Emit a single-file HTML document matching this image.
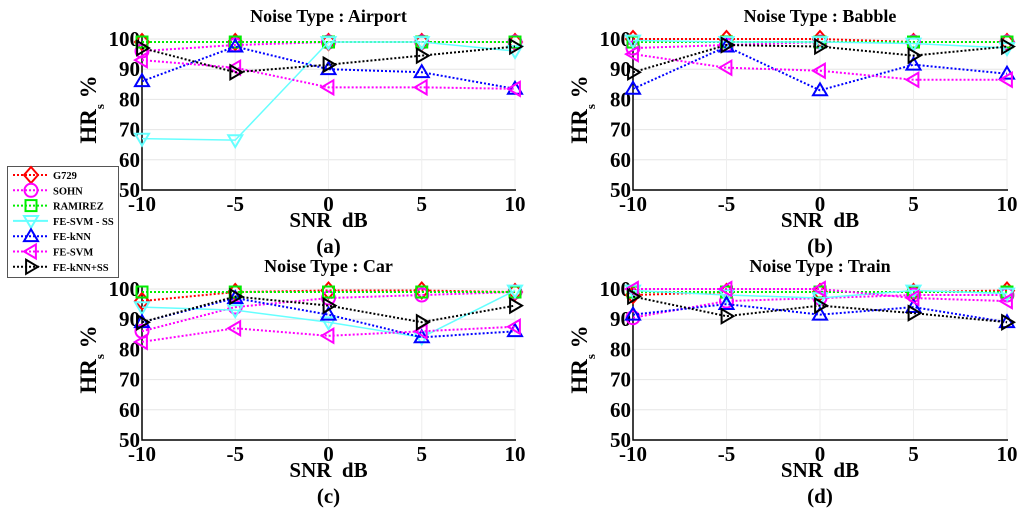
<!DOCTYPE html>
<html><head><meta charset="utf-8"><style>
html,body{margin:0;padding:0;background:#fff}
svg{display:block;font-family:"Liberation Serif",serif;font-weight:bold}
</style></head><body>
<svg id="fig" width="1024" height="508" viewBox="0 0 1024 508" xmlns="http://www.w3.org/2000/svg"></svg>
<script>
const snr = [-10,-5,0,5,10];
const yTicks = [50,60,70,80,90,100];
const xTicks = [-10,-5,0,5,10];
const seriesNames = ["G729","SOHN","RAMIREZ","FE-SVM - SS","FE-kNN","FE-SVM","FE-kNN+SS"];
const airportG729 = [99,99,99,99,99];
const airportSOHN = [96,98,99,99,99];
const airportRAMIREZ = [99,99,99,99,99];
const airportSVMSS = [67,66.5,99,99,96];
const airportKNN = [86,97.5,90,89,83.5];
const airportSVM = [93,90.5,84,84,83.5];
const airportKNNSS = [97,89,91.5,94.5,97.5];
const babbleG729 = [100,100,100,99,99];
const babbleSOHN = [97,98,99,99,99];
const babbleRAMIREZ = [99,99,99,99,99];
const babbleSVMSS = [99.5,99,99,98.5,97];
const babbleKNN = [83.5,97.5,83,91.5,88.5];
const babbleSVM = [95,90.5,89.5,86.5,86.5];
const babbleKNNSS = [89,98,97.5,94.5,97.5];
const carG729 = [96,99,99.5,99.5,99];
const carSOHN = [86,94,97,98,99];
const carRAMIREZ = [99,99,99,99,99];
const carSVMSS = [94,93,89,84,99.5];
const carKNN = [89,97,91.5,84,86];
const carSVM = [82.5,87,84.5,86,87.5];
const carKNNSS = [89,97.5,94.5,89,94.5];
const trainG729 = [98,99,99,99,99.5];
const trainSOHN = [90.5,96,97,98,98];
const trainRAMIREZ = [99,99,99,99,99];
const trainSVMSS = [99.5,98,97,99.5,98.5];
const trainKNN = [91.5,95,91.5,94,89];
const trainSVM = [100,100,100,97,96];
const trainKNNSS = [97.5,91,94.5,92,89];

const styles = [
 {c:"#ff0000",dash:"2,2",m:"diamond"},
 {c:"#ff00ff",dash:"2,2",m:"circle"},
 {c:"#00ee00",dash:"2,2",m:"square"},
 {c:"#66ffff",dash:"",m:"tridown"},
 {c:"#0000ff",dash:"2,2",m:"triup"},
 {c:"#ff00ff",dash:"2,2",m:"trileft"},
 {c:"#000000",dash:"2,2",m:"triright"}
];
const panels = [
 {title:"Noise Type : Airport",lab:"(a)",x0:142,x1:515,y0:39,y1:190,data:[airportG729,airportSOHN,airportRAMIREZ,airportSVMSS,airportKNN,airportSVM,airportKNNSS]},
 {title:"Noise Type : Babble",lab:"(b)",x0:633,x1:1007,y0:39,y1:190,data:[babbleG729,babbleSOHN,babbleRAMIREZ,babbleSVMSS,babbleKNN,babbleSVM,babbleKNNSS]},
 {title:"Noise Type : Car",lab:"(c)",x0:142,x1:515,y0:289,y1:440,data:[carG729,carSOHN,carRAMIREZ,carSVMSS,carKNN,carSVM,carKNNSS]},
 {title:"Noise Type : Train",lab:"(d)",x0:633,x1:1007,y0:289,y1:440,data:[trainG729,trainSOHN,trainRAMIREZ,trainSVMSS,trainKNN,trainSVM,trainKNNSS]}
];
const NS="http://www.w3.org/2000/svg";
const svg=document.getElementById('fig');
function mk(tag,attrs,parent,text){const e=document.createElementNS(NS,tag);for(const k in attrs)e.setAttribute(k,attrs[k]);if(text!==undefined)e.textContent=text;(parent||svg).appendChild(e);return e;}
function marker(g,type,x,y,c){
 const r=7;let e;
 if(type==="circle")e=mk("circle",{cx:x,cy:y,r:6.5},g);
 else if(type==="square")e=mk("rect",{x:x-5.5,y:y-5.5,width:11,height:11},g);
 else{let p;
  if(type==="diamond")p=[[x,y-r-1],[x+r,y],[x,y+r+1],[x-r,y]];
  if(type==="triup")p=[[x,y-r],[x+r,y+r*0.7],[x-r,y+r*0.7]];
  if(type==="tridown")p=[[x,y+r],[x+r,y-r*0.7],[x-r,y-r*0.7]];
  if(type==="trileft")p=[[x-r,y],[x+r*0.7,y-r],[x+r*0.7,y+r]];
  if(type==="triright")p=[[x+r,y],[x-r*0.7,y-r],[x-r*0.7,y+r]];
  e=mk("polygon",{points:p.map(q=>q.join(",")).join(" ")},g);}
 e.setAttribute("fill","none");e.setAttribute("stroke",c);e.setAttribute("stroke-width","2");
 
 
}
panels.forEach((P,pi)=>{
 const g=mk("g",{});
 
 
 const sx=v=>P.x0+(v+10)/20*(P.x1-P.x0);
 const sy=v=>P.y1-(v-50)/50*(P.y1-P.y0);
 yTicks.forEach(t=>{if(t>50){const l=mk("line",{x1:P.x0,x2:P.x1,y1:sy(t),y2:sy(t),stroke:"#e6e6e6","stroke-width":1},g);}});
 xTicks.forEach(t=>{if(t>-10){const l=mk("line",{x1:sx(t),x2:sx(t),y1:P.y0,y2:P.y1,stroke:"#eeeeee","stroke-width":1},g);}});
 const ax=mk("path",{d:`M${P.x0},${P.y0-3} V${P.y1} H${P.x1+1}`,fill:"none",stroke:"#000","stroke-width":1.5},g);
 
 yTicks.forEach(t=>{const e=mk("text",{x:P.x0-2,y:sy(t)+7,"text-anchor":"end","font-size":"21"},g,String(t));});
 xTicks.forEach(t=>{const e=mk("text",{x:sx(t),y:P.y1+21,"text-anchor":"middle","font-size":"21"},g,String(t));});
 const cx=(P.x0+P.x1)/2;
 const ti=mk("text",{x:cx,y:P.y0-17,"text-anchor":"middle","font-size":"18"},g,P.title);
 const xl=mk("text",{x:cx,y:P.y1+37,"text-anchor":"middle","font-size":"21"},g,"SNR  dB");
 xl.setAttribute("style","white-space:pre");
 const pl=mk("text",{x:cx,y:P.y1+63,"text-anchor":"middle","font-size":"21"},g,P.lab);
 const yl=mk("text",{transform:`translate(${P.x0-46},${(P.y0+P.y1)/2-5}) rotate(-90)`,"text-anchor":"middle","font-size":"23"},g);
 
 yl.setAttribute("style","white-space:pre");
 mk("tspan",{},yl,"HR");mk("tspan",{"font-size":"13",dy:"8"},yl,"s");mk("tspan",{dy:"-8"},yl," %");
 P.data.forEach((vals,si)=>{
  const s=styles[si];
  const pts=vals.map((v,i)=>sx(snr[i])+","+sy(v)).join(" ");
  const pl=mk("polyline",{points:pts,fill:"none",stroke:s.c,"stroke-width":s.dash?2:1.5,"stroke-dasharray":s.dash},g);
  
  
  vals.forEach((v,i)=>marker(g,s.m,sx(snr[i]),sy(v),s.c));
 });
});
const lg=mk("g",{});


const lb=mk("rect",{x:7.5,y:166.5,width:111,height:111,fill:"#fff",stroke:"#555","stroke-width":1},lg);

seriesNames.forEach((n,i)=>{
 const y=175+i*15.3,s=styles[i];
 const l=mk("line",{x1:13,x2:48,y1:y,y2:y,stroke:s.c,"stroke-width":2,"stroke-dasharray":s.dash},lg);
 
 marker(lg,s.m,31,y,s.c);
 const t=mk("text",{x:53,y:y+4,"font-size":"10.5"},lg,n);
 
});
</script>
</body></html>
